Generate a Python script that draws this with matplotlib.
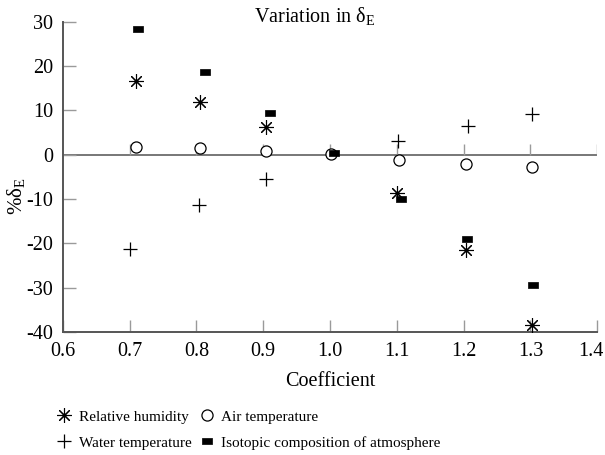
import matplotlib
matplotlib.use("Agg")
import matplotlib.pyplot as plt
import matplotlib.transforms as mtransforms

plt.rcParams["font.family"] = ["Liberation Serif", "DejaVu Serif"]
plt.rcParams["mathtext.fontset"] = "custom"
plt.rcParams["mathtext.rm"] = "Liberation Serif"
plt.rcParams["mathtext.it"] = "Liberation Serif:italic"

# values
rh_x = [0.710, 0.806, 0.905, 1.100, 1.203, 1.302]
rh_y = [16.6, 11.8, 6.2, -8.7, -21.5, -38.5]

at_x = [0.710, 0.806, 0.904, 1.002, 1.103, 1.203, 1.303]
at_y = [1.8, 1.4, 0.9, 0.1, -1.3, -2.0, -2.7]

wt_x = [0.700, 0.804, 0.904, 1.102, 1.206, 1.303]
wt_y = [-21.2, -11.3, -5.4, 3.2, 6.5, 9.1]

ic_x = [0.713, 0.813, 0.910, 1.006, 1.106, 1.205, 1.304]
ic_y = [28.4, 18.7, 9.4, 0.3, -10.0, -19.0, -29.3]

xticks = [0.6, 0.7, 0.8, 0.9, 1.0, 1.1, 1.2, 1.3, 1.4]
yticks = [-40, -30, -20, -10, 0, 10, 20, 30]

spine_col = "#555555"
tick_col = "#9a9a9a"

fig = plt.figure(figsize=(6.05, 4.55), dpi=100)
ax = fig.add_axes([0.1036, 0.2703, 0.8836, 0.682])

# zero line with its own little ticks
ax.axhline(0, color="#777777", lw=1.4, zorder=1)
ax.vlines(xticks[1:], 0, 2.5, color=tick_col, lw=1.0, zorder=1)

asterisk = (8, 2, 0)
rect = [(-1, -0.62), (1, -0.62), (1, 0.62), (-1, 0.62), (-1, -0.62)]

ax.plot(rh_x, rh_y, ls="none", marker=asterisk, ms=10.5, mec="black", mew=0.8,
        color="black", label="Relative humidity", zorder=3)
ax.plot(wt_x, wt_y, ls="none", marker="+", ms=9.5, mec="black", mew=0.9,
        color="black", label="Water temperature", zorder=3)
ax.plot(at_x, at_y, ls="none", marker="o", ms=8, mfc="white", mec="black", mew=0.9,
        color="black", label="Air temperature", zorder=3)
ax.plot(ic_x, ic_y, ls="none", marker=rect, ms=7, mfc="black", mec="black", mew=0.5,
        color="black", label="Isotopic composition of atmosphere", zorder=3)

ax.set_xlim(0.6, 1.4)
ax.set_ylim(-40, 30)
ax.set_xticks(xticks)
ax.set_yticks(yticks)
ax.set_xticklabels([f"{v:.1f}" for v in xticks])
ax.set_yticklabels([str(v) for v in yticks])

for s in ["top", "right"]:
    ax.spines[s].set_visible(False)
for s in ["left", "bottom"]:
    ax.spines[s].set_color(spine_col)
    ax.spines[s].set_linewidth(1.4)

ax.tick_params(axis="both", direction="in", length=9, width=1.0, color=tick_col,
               labelsize=14.5, labelcolor="black")
ax.tick_params(axis="y", pad=7)
ax.tick_params(axis="x", pad=7)

# keep the last x label inside the picture
last = ax.get_xticklabels()[-1]
last.set_transform(last.get_transform()
                   + mtransforms.ScaledTranslation(-0.06, 0, fig.dpi_scale_trans))

ax.set_xlabel("Coefficient", fontsize=14.5, labelpad=8)
ax.set_ylabel("%δ$_{\\mathrm{E}}$", fontsize=15)
ax.yaxis.set_label_coords(-0.066, 0.438)

ax.text(0.472, 1.0, "Variation in δ$_{\\mathrm{E}}$", transform=ax.transAxes,
        ha="center", va="baseline", fontsize=14.5)

ax.legend(loc="upper left", bbox_to_anchor=(56.7 / 605, 1 - 410 / 455),
          bbox_transform=fig.transFigure, ncol=2, frameon=False, fontsize=11,
          handlelength=1.0, handletextpad=0.45, columnspacing=0.5,
          labelspacing=0.8, borderpad=0, borderaxespad=0)

fig.savefig("out.png", dpi=100)
